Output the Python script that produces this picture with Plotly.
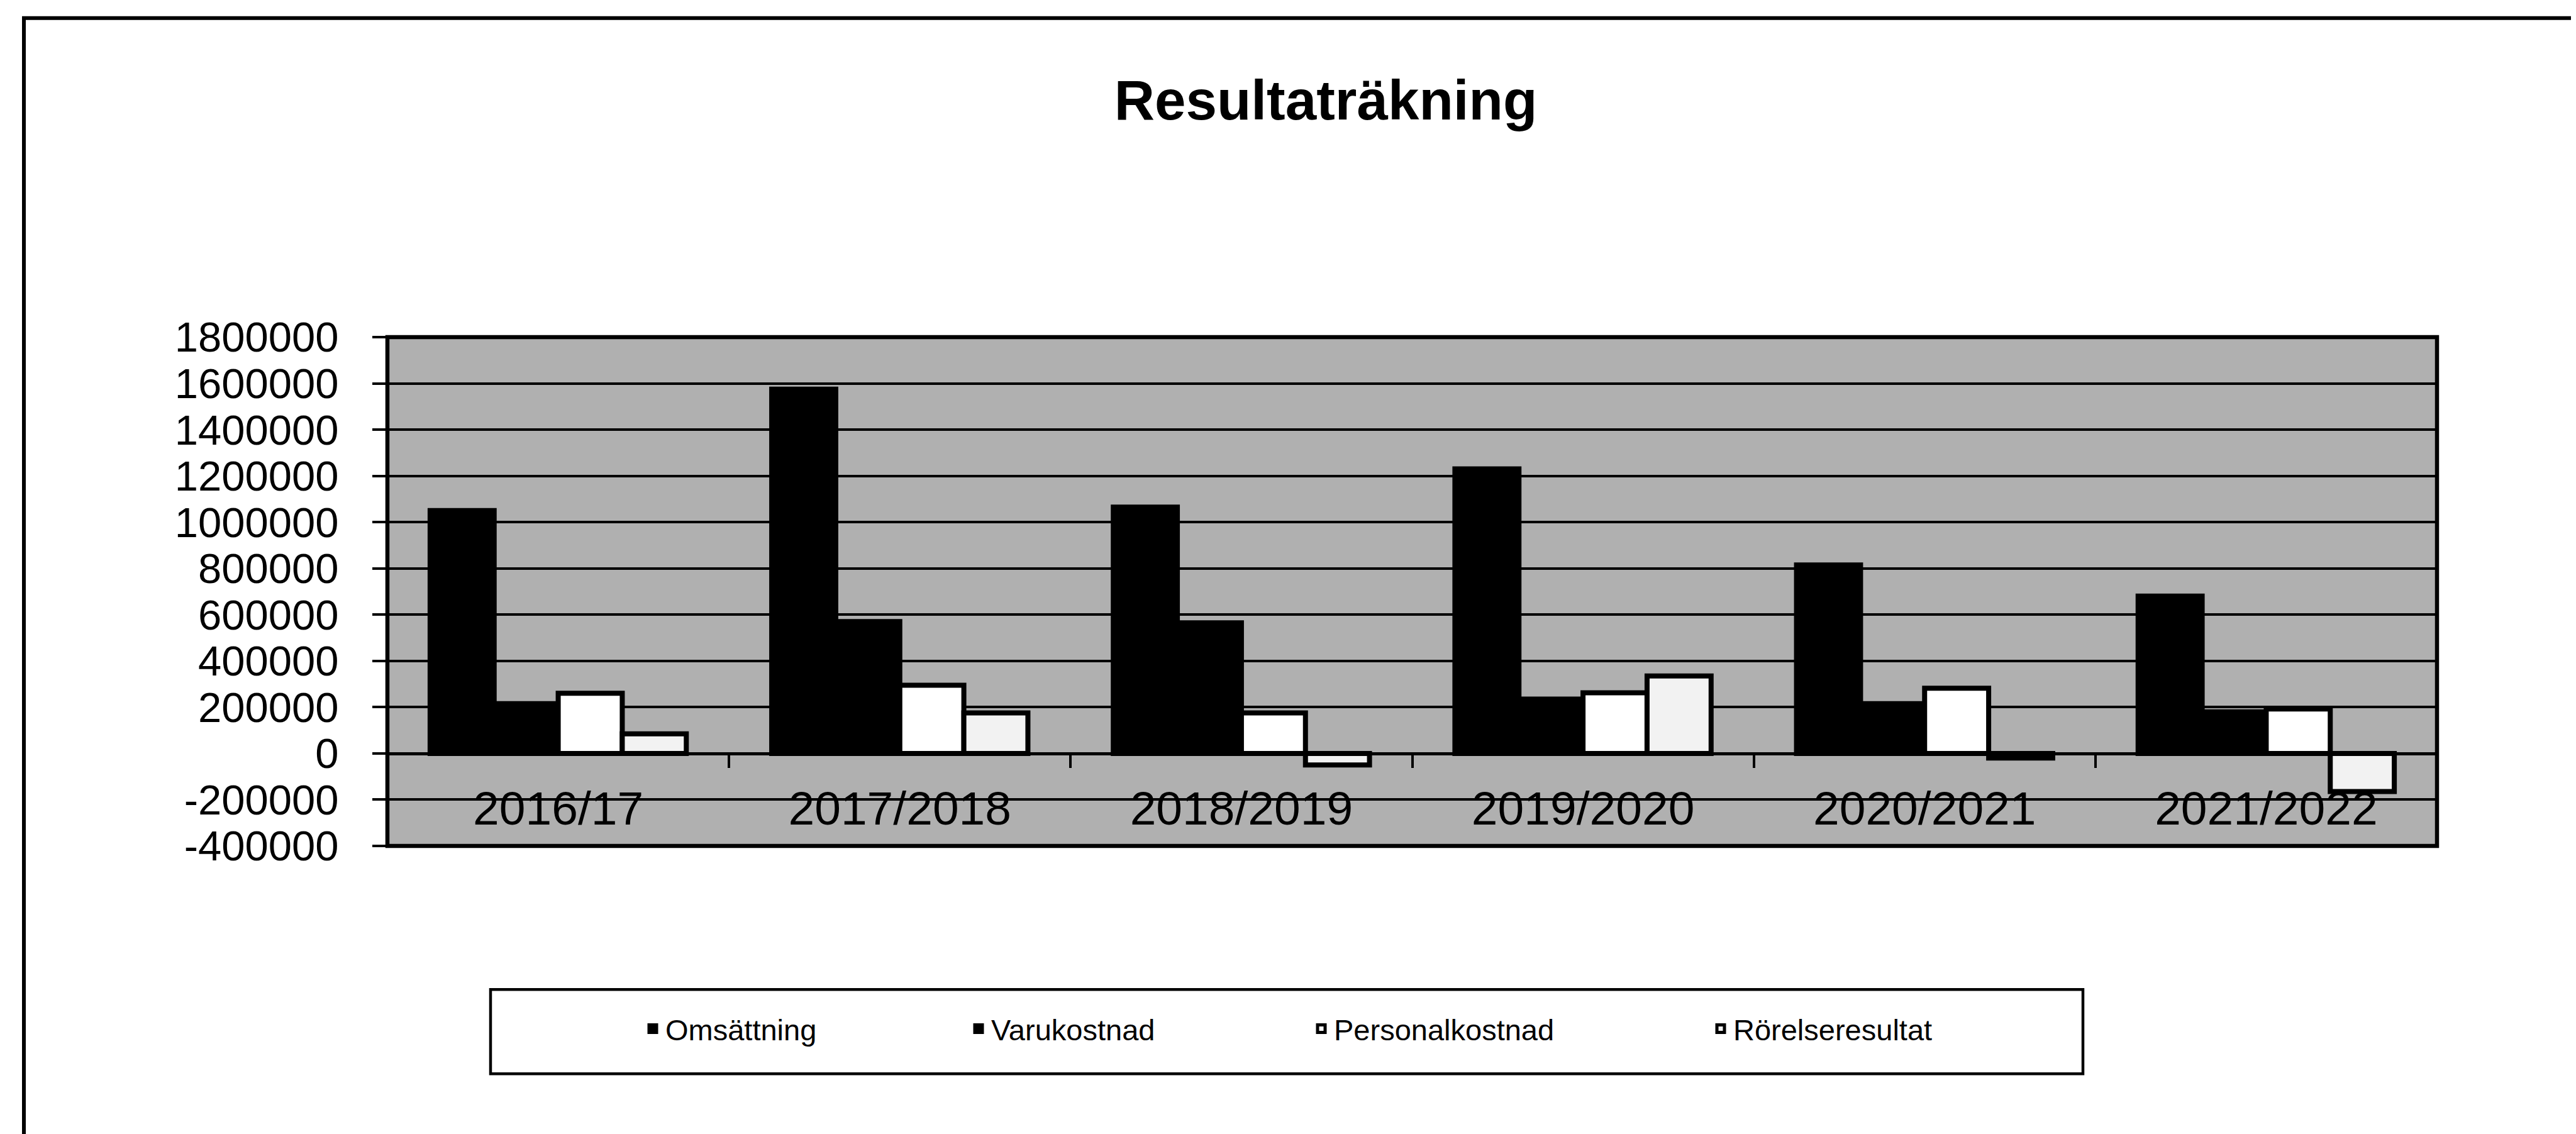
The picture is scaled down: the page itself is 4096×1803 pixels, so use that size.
import plotly.graph_objects as go

# ---------------- data ----------------
categories = ["2016/17", "2017/2018", "2018/2019", "2019/2020", "2020/2021", "2021/2022"]
omsattning = [1050000, 1575000, 1065000, 1230000, 815000, 680000]
varukostnad = [215000, 570000, 565000, 235000, 215000, 180000]
personalkostnad = [260000, 295000, 175000, 262000, 282000, 192000]
rorelseresultat = [85000, 175000, -50000, 335000, -20000, -165000]
series_names = ["Omsättning", "Varukostnad", "Personalkostnad", "Rörelseresultat"]
y_tick_values = [-400000, -200000, 0, 200000, 400000, 600000, 800000,
                 1000000, 1200000, 1400000, 1600000, 1800000]
y_tick_labels = ["-400000", "-200000", "0", "200000", "400000", "600000", "800000",
                 "1000000", "1200000", "1400000", "1600000", "1800000"]
y_range = [-400000, 1800000]

# ---------------- geometry (output pixels) ----------------
W, H = 4096, 1803
L, R, T, B = 608, 3867, 528, 1337.5
FONT = "Liberation Sans, Arial, sans-serif"


def px(x):
    return (x - L) / (R - L)


def py(y):
    return (B - y) / (B - T)


fig = go.Figure()

fills = ["#000000", "#000000", "#ffffff", "#f2f2f2"]
values = [omsattning, varukostnad, personalkostnad, rorelseresultat]
legend_ids = ["legend", "legend2", "legend3", "legend4"]
for name, vals, fill, lg in zip(series_names, values, fills, legend_ids):
    fig.add_trace(go.Bar(
        x=categories, y=vals, name=name,
        marker=dict(color=fill, line=dict(color="#000000", width=8)),
        legend=lg,
    ))

zero_pos = (0 - y_range[0]) / (y_range[1] - y_range[0])

# legend text start positions (output px) and vertical centre
legend_text_x = [1055, 1573, 2118, 2753]
legend_cy = 1628
legend_common = dict(
    xref="container", yref="container", xanchor="left", yanchor="middle",
    orientation="h", bgcolor="rgba(0,0,0,0)", borderwidth=0,
    font=dict(family=FONT, size=47, color="#000000"),
)
legends = {}
for lg, tx in zip(legend_ids, legend_text_x):
    legends[lg] = dict(legend_common, x=(tx - 45) / W, y=1 - legend_cy / H)

fig.update_layout(
    width=W, height=H,
    margin=dict(l=L, r=W - R, t=T, b=H - B, pad=0),
    paper_bgcolor="#ffffff",
    plot_bgcolor="#b0b0b0",
    barmode="group", bargap=0.25, bargroupgap=0,
    font=dict(family=FONT, color="#000000"),
    title=dict(
        text="Resultaträkning",
        font=dict(family=FONT, size=89, color="#000000", weight="bold"),
        xref="container", yref="container",
        x=2100 / W, xanchor="center", y=1 - 151 / H, yanchor="middle",
    ),
    xaxis=dict(
        type="category", anchor="free", position=zero_pos,
        showline=True, linecolor="#000000", linewidth=4.5,
        ticks="outside", ticklen=20, tickwidth=4, tickcolor="#000000",
        tickson="boundaries", ticklabelstandoff=20,
        tickfont=dict(family=FONT, size=75, color="#000000"),
        showgrid=False, zeroline=False,
    ),
    yaxis=dict(
        range=y_range, tickmode="array", tickvals=y_tick_values, ticktext=y_tick_labels,
        showgrid=True, gridcolor="#000000", gridwidth=3.7, zeroline=False,
        showline=False, ticks="outside", ticklen=23, tickwidth=4, tickcolor="#000000",
        ticklabelstandoff=40,
        tickfont=dict(family=FONT, size=67, color="#000000"),
    ),
    showlegend=True,
    **legends,
)

shapes = [
    # plot area frame
    dict(type="rect", xref="paper", yref="paper", x0=0, x1=1, y0=0, y1=1,
         line=dict(color="#000000", width=6.5), layer="above"),
    # legend box
    dict(type="rect", xref="paper", yref="paper",
         x0=px(772), x1=px(3304), y0=py(1700), y1=py(1566),
         line=dict(color="#000000", width=4.5), layer="above"),
    # outer chart border
    dict(type="rect", xref="paper", yref="paper",
         x0=px(30), x1=px(4083), y0=py(1810), y1=py(20.5),
         line=dict(color="#000000", width=6), layer="above"),
]
fig.update_layout(shapes=shapes)

fig.write_html("out.html")
